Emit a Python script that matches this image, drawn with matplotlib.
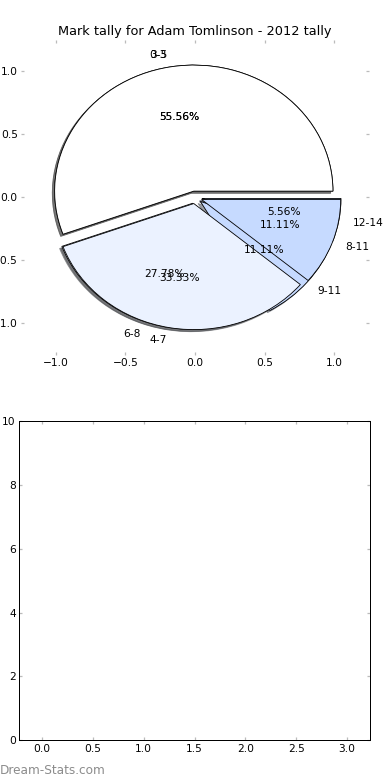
import matplotlib
matplotlib.use("Agg")
import matplotlib.pyplot as plt

# ===================== data =====================
title = "Mark tally for Adam Tomlinson - 2012 tally"

labels_a = ["3-5", "6-8", "9-11", "12-14"]
values_a = [10, 5, 2, 1]

labels_b = ["0-3", "4-7", "8-11"]
values_b = [10, 6, 2]

wedge_colors = ["#FFFFFF", "#EBF2FF", "#C6DAFF", "#A9C6FF"]

pie_ticks = [-1.0, -0.5, 0.0, 0.5, 1.0]
bar_xticks = [0.0, 0.5, 1.0, 1.5, 2.0, 2.5, 3.0]
bar_yticks = [0, 2, 4, 6, 8, 10]
# ================================================

FS = 12.8
plt.rcParams["font.size"] = FS
plt.rcParams["font.family"] = "DejaVu Sans"

fig = plt.figure(figsize=(6.5, 13), dpi=60)
fig.patch.set_facecolor("white")

TICK_GRAY = "#BBBBBB"


def style_ticks(ax):
    ax.tick_params(axis="both", which="major", direction="in", length=4,
                   width=1.5, color=TICK_GRAY, pad=4, labelsize=FS,
                   top=True, right=True, labelcolor="black")


# ---- top: two pies drawn over each other ----
ax1 = fig.add_axes([0.054, 0.545, 0.892, 0.404])
for vals, labs in ((values_a, labels_a), (values_b, labels_b)):
    ax1.pie(vals, labels=labs, colors=wedge_colors[:len(vals)],
            explode=[0.05] * len(vals), autopct="%.2f%%", shadow=True,
            startangle=0, pctdistance=0.6, labeldistance=1.1,
            wedgeprops={"linewidth": 1.0, "edgecolor": "black"},
            textprops={"fontsize": FS})

ax1.set_aspect("auto")
ax1.set_frame_on(False)
ax1.set_xlim(-1.25, 1.25)
ax1.set_ylim(-1.25, 1.25)
ax1.set_xticks(pie_ticks)
ax1.set_yticks(pie_ticks)
style_ticks(ax1)
ax1.set_title(title, fontsize=15.5, pad=6)

# ---- bottom: empty axes ----
ax2 = fig.add_axes([0.049, 0.051, 0.9, 0.409])
ax2.set_xlim(-0.225, 3.225)
ax2.set_ylim(0, 10)
ax2.set_xticks(bar_xticks)
ax2.set_yticks(bar_yticks)
style_ticks(ax2)
for sp in ax2.spines.values():
    sp.set_linewidth(1.2)
    sp.set_color("black")

fig.text(0.0, 0.0128, "Dream-Stats.com", fontsize=14.5, color="#8C8C8C",
         ha="left", va="center")

fig.savefig("out.png", dpi=60, facecolor="white")
